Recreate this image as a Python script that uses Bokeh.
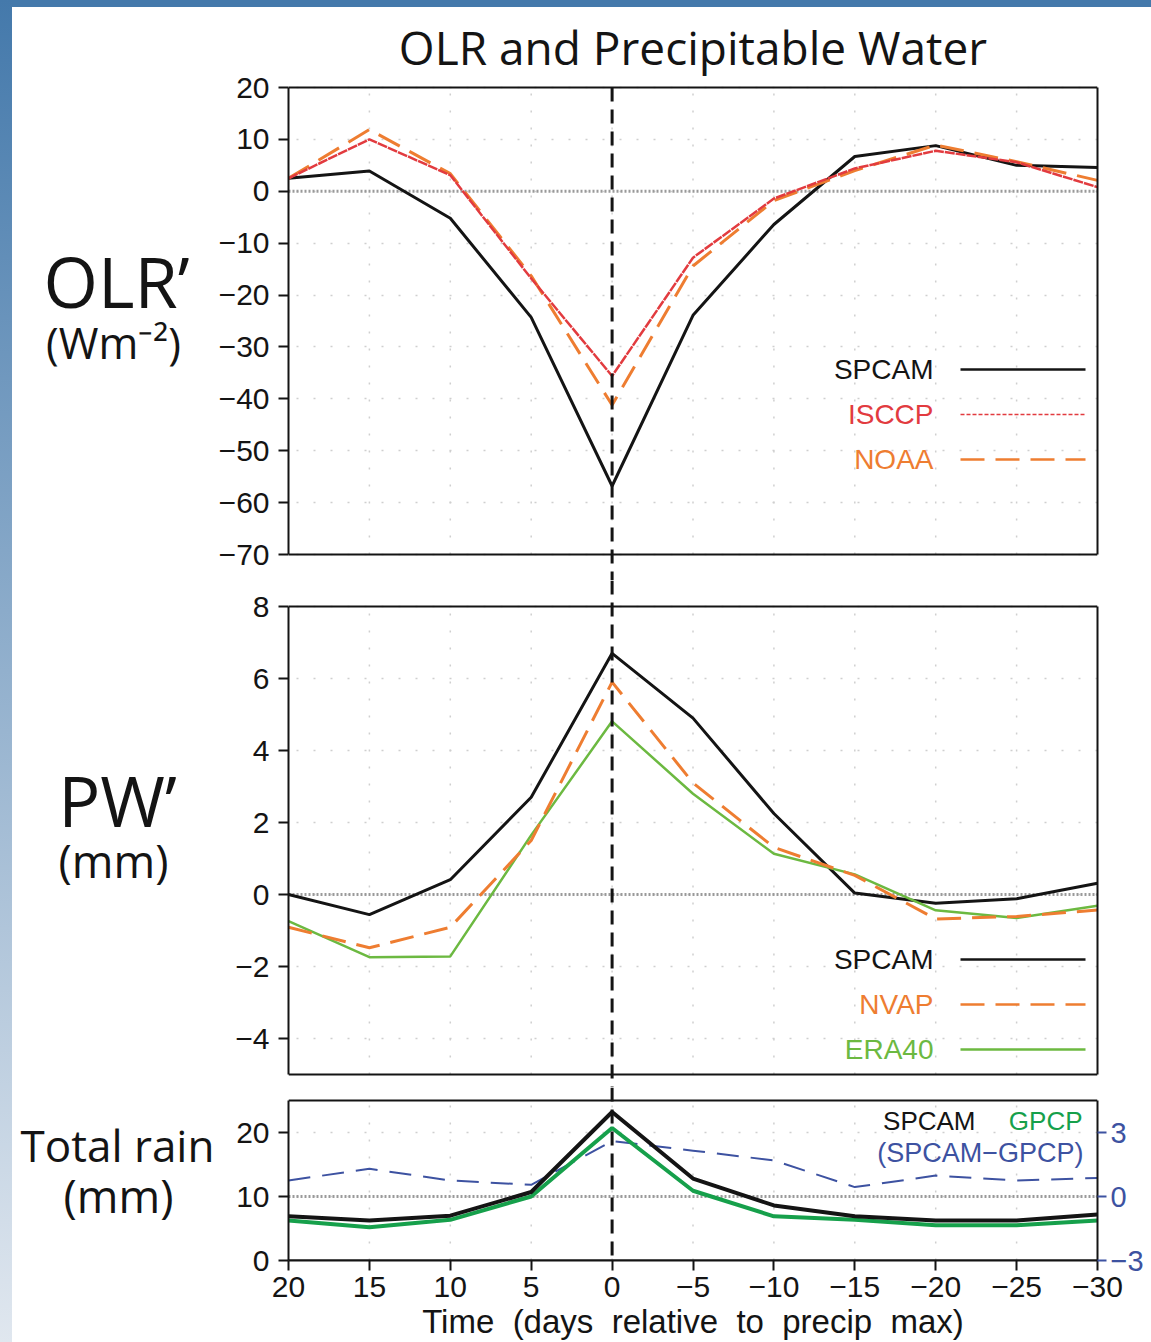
from bokeh.plotting import figure
from bokeh.models import FixedTicker, Range1d, LinearAxis, Span, Arrow, Label, Div
from bokeh.layouts import column, row
from bokeh.embed import file_html
from bokeh.resources import INLINE

# ---------------- data ----------------
days = [20, 15, 10, 5, 0, -5, -10, -15, -20, -25, -30]

olr_spcam = [2.5, 3.9, -5.2, -24.3, -56.8, -23.9, -6.4, 6.7, 8.8, 5.0, 4.6]
olr_isccp = [2.5, 10.0, 3.1, -16.8, -35.6, -12.8, -1.4, 4.4, 7.8, 5.6, 0.8]
olr_noaa = [2.5, 11.9, 3.4, -16.3, -41.2, -14.4, -1.8, 4.0, 8.9, 5.7, 2.1]

pw_spcam = [0.0, -0.56, 0.41, 2.7, 6.7, 4.9, 2.25, 0.04, -0.24, -0.12, 0.31]
pw_nvap = [-0.91, -1.48, -0.91, 1.5, 5.9, 3.1, 1.31, 0.53, -0.68, -0.61, -0.43]
pw_era40 = [-0.74, -1.74, -1.72, 1.65, 4.81, 2.8, 1.13, 0.56, -0.44, -0.65, -0.31]

rain_spcam = [6.9, 6.25, 7.0, 10.7, 23.2, 12.8, 8.6, 6.9, 6.25, 6.25, 7.2]
rain_gpcp = [6.25, 5.2, 6.35, 10.0, 20.7, 10.9, 6.9, 6.35, 5.5, 5.5, 6.25]
rain_diff = [0.75, 1.3, 0.75, 0.55, 2.6, 2.15, 1.69, 0.44, 0.98, 0.75, 0.87]

olr_ticks = [20, 10, 0, -10, -20, -30, -40, -50, -60, -70]
pw_ticks = [8, 6, 4, 2, 0, -2, -4]
rain_ticks = [0, 10, 20]
diff_ticks = [-3, 0, 3]

olr_limits = (-70, 20)
pw_limits = (-5, 8)
rain_limits = (0, 25)
diff_limits = (-3, 4.5)

title_text = "OLR and Precipitable Water"
xlabel_text = " \u00a0".join(["Time", "(days", "relative", "to", "precip", "max)"])

# ---------------- style / geometry ----------------
BLACK = "#141414"
RED = "#e23b3f"
ORANGE = "#ee7d31"
LGREEN = "#6cb941"
DGREEN = "#16a04b"
BLUE = "#3d52a1"
GREY0 = "#9a9a9a"
GRIDC = "#cfcfcf"
TICK_FONT = "Liberation Sans"
TXT_FONT = "Open Sans"

PAGE_W, PAGE_H = 1151, 1342
BAND_W, BAND_H = 12, 7
TEXT_COL_R = 215           # right edge of the left text column
FRAME_L, FRAME_R = 288, 1097
LEFT = FRAME_L - TEXT_COL_R
FRAME_W = FRAME_R - FRAME_L
FIG_W = PAGE_W - TEXT_COL_R
RIGHT = FIG_W - LEFT - FRAME_W
X0, X1 = 20, -30

# panel box (page px) and canvas span (page px) of each panel
P1_BOX, P1_CAN = (87, 554), (BAND_H, 580)
P2_BOX, P2_CAN = (606, 1074), (580, 1087)
P3_BOX, P3_CAN = (1100, 1260), (1087, PAGE_H)


def lab(v):
    return f"{v:g}".replace("-", "\u2212")


def day_at(px):
    return X0 + (px - FRAME_L) * (X1 - X0) / FRAME_W


def scaler(box, limits):
    top, bot = box
    lo, hi = limits
    k = (bot - top) / (hi - lo)
    return lambda py: lo + (bot - py) / k


def style_yaxis(ya, ticks, bounds):
    ya.ticker = FixedTicker(ticks=ticks)
    ya.major_label_overrides = {t: lab(t) for t in ticks}
    ya.major_label_text_font = TICK_FONT
    ya.major_label_text_font_size = "30px"
    ya.major_label_text_color = BLACK
    ya.major_tick_out = 10
    ya.major_tick_in = 0
    ya.major_tick_line_width = 2
    ya.major_tick_line_color = BLACK
    ya.minor_tick_line_color = None
    ya.axis_line_width = 2
    ya.axis_line_color = BLACK
    ya.major_label_standoff = 9
    ya.bounds = bounds


def make_panel(box, can, limits, ticks, xaxis=False, bottom_border=0):
    f = scaler(box, limits)
    c_top, c_bot = can
    frame_bottom = c_bot - bottom_border
    y_lo, y_hi = f(frame_bottom), f(c_top)
    p = figure(width=FIG_W, height=c_bot - c_top, x_range=Range1d(X0, X1),
               y_range=Range1d(y_lo, y_hi), output_backend="svg", toolbar_location=None,
               title=None, x_axis_location="below" if xaxis else None,
               min_border_left=LEFT, min_border_right=RIGHT,
               min_border_top=0, min_border_bottom=bottom_border)
    p.outline_line_color = None
    p.background_fill_color = "white"
    p.border_fill_color = "white"
    p.xgrid.visible = False
    style_yaxis(p.yaxis[0], ticks, limits)
    g = p.ygrid[0]
    g.ticker = FixedTicker(ticks=ticks)
    g.grid_line_color = GRIDC
    g.grid_line_width = 1.5
    g.grid_line_dash = "2 15"
    # vertical dotted grid, limited to the panel box
    inner = days[1:-1]
    p.segment(x0=inner, y0=limits[0], x1=inner, y1=limits[1], line_color=GRIDC,
              line_width=1.5, line_dash="2 15", level="underlay")
    # top / bottom edges of the panel box
    for loc in limits:
        p.add_layout(Span(location=loc, dimension="width", line_color=BLACK, line_width=2))
    # precip-max reference line, running through the gaps between panels
    y_start = limits[1] if c_top == BAND_H else y_hi
    y_end = limits[0] if xaxis else y_lo
    p.add_layout(Arrow(end=None, x_start=0, y_start=y_start, x_end=0, y_end=y_end,
                       line_color=BLACK, line_width=3, line_dash="14 8"))
    if xaxis:
        xa = p.xaxis[0]
        xa.ticker = FixedTicker(ticks=days)
        xa.major_label_overrides = {t: lab(t) for t in days}
        xa.major_label_text_font = TICK_FONT
        xa.major_label_text_font_size = "30px"
        xa.major_label_text_color = BLACK
        xa.major_tick_out = 10
        xa.major_tick_in = 0
        xa.major_tick_line_width = 2
        xa.major_tick_line_color = BLACK
        xa.minor_tick_line_color = None
        xa.axis_line_width = 2
        xa.axis_line_color = BLACK
        xa.major_label_standoff = 6
        xa.axis_label = xlabel_text
        xa.axis_label_text_font = TICK_FONT
        xa.axis_label_text_font_size = "33px"
        xa.axis_label_text_font_style = "normal"
        xa.axis_label_text_color = BLACK
        xa.axis_label_standoff = 3
    return p, f


def right_edge(p, limits):
    ax = LinearAxis(ticker=FixedTicker(ticks=[]), axis_line_color=BLACK, axis_line_width=2,
                    major_tick_line_color=None, minor_tick_line_color=None,
                    major_label_text_font_size="1px", bounds=limits)
    p.add_layout(ax, "right")


def zero_line(p, loc, rname="default"):
    p.add_layout(Span(location=loc, dimension="width", line_color=GREY0, line_width=3,
                      line_dash="2 2", level="underlay", y_range_name=rname))


def text(p, s, x, y, size, color=BLACK, font=TXT_FONT, align="center", baseline="middle"):
    p.add_layout(Label(x=x, y=y, text=s, text_font=font, text_font_size=f"{size}px",
                       text_color=color, text_align=align, text_baseline=baseline))


def legend_row(p, s, color, py, f, dash, width, size=28, tx=933, l0=960, l1=1085):
    y = f(py)
    text(p, s, day_at(tx), y, size, color=color, font=TICK_FONT, align="right")
    p.add_layout(Arrow(end=None, x_start=day_at(l0), y_start=y, x_end=day_at(l1), y_end=y,
                       line_color=color, line_width=width, line_dash=dash))


# ---------------- OLR panel ----------------
p1, v1 = make_panel(P1_BOX, P1_CAN, olr_limits, olr_ticks)
right_edge(p1, olr_limits)
zero_line(p1, 0)
p1.line(days, olr_spcam, line_color=BLACK, line_width=3)
p1.line(days, olr_noaa, line_color=ORANGE, line_width=3, line_dash="24 11")
p1.line(days, olr_isccp, line_color=RED, line_width=2.5, line_dash="10 1")
text(p1, title_text, day_at((FRAME_L + FRAME_R) / 2), v1(46), 46)
legend_row(p1, "SPCAM", BLACK, 369, v1, "solid", 2.5)
legend_row(p1, "ISCCP", RED, 414, v1, "4 2", 1.5)
legend_row(p1, "NOAA", ORANGE, 459, v1, "24 11", 2.5)

# ---------------- PW panel ----------------
p2, v2 = make_panel(P2_BOX, P2_CAN, pw_limits, pw_ticks)
right_edge(p2, pw_limits)
zero_line(p2, 0)
p2.line(days, pw_spcam, line_color=BLACK, line_width=3)
p2.line(days, pw_era40, line_color=LGREEN, line_width=2.5)
p2.line(days, pw_nvap, line_color=ORANGE, line_width=3, line_dash="24 11")
legend_row(p2, "SPCAM", BLACK, 959, v2, "solid", 2.5)
legend_row(p2, "NVAP", ORANGE, 1004, v2, "24 11", 2.5)
legend_row(p2, "ERA40", LGREEN, 1049, v2, "solid", 2.5)

# ---------------- Rain panel ----------------
p3, v3 = make_panel(P3_BOX, P3_CAN, rain_limits, rain_ticks, xaxis=True,
                    bottom_border=PAGE_H - P3_BOX[1])
fd = scaler(P3_BOX, diff_limits)
p3.extra_y_ranges = {"diff": Range1d(diff_limits[0], fd(P3_CAN[0]))}
ra = LinearAxis(y_range_name="diff", ticker=FixedTicker(ticks=diff_ticks),
                major_label_overrides={t: lab(t) for t in diff_ticks},
                major_label_text_font=TICK_FONT, major_label_text_font_size="29px",
                major_label_text_color=BLUE, major_tick_line_color=BLUE,
                major_tick_line_width=2, major_tick_out=9, major_tick_in=0,
                minor_tick_line_color=None, axis_line_color=BLACK, axis_line_width=2,
                major_label_standoff=4, bounds=diff_limits)
p3.add_layout(ra, "right")
zero_line(p3, 0, "diff")
p3.line(days, rain_diff, y_range_name="diff", line_color=BLUE, line_width=2, line_dash="22 12")
p3.line(days, rain_gpcp, line_color=DGREEN, line_width=4)
p3.line(days, rain_spcam, line_color=BLACK, line_width=4)
text(p3, "SPCAM", day_at(975), v3(1120), 26, font=TICK_FONT, align="right")
text(p3, "GPCP", day_at(1082), v3(1120), 26, color=DGREEN, font=TICK_FONT, align="right")
text(p3, "(SPCAM\u2212GPCP)", day_at(1083), v3(1152), 27, color=BLUE, font=TICK_FONT,
     align="right")

# ---------------- left text column ----------------
lt = figure(width=TEXT_COL_R - BAND_W, height=PAGE_H - BAND_H,
            x_range=Range1d(BAND_W, TEXT_COL_R), y_range=Range1d(PAGE_H, BAND_H),
            output_backend="svg", toolbar_location=None, title=None,
            x_axis_location=None, y_axis_location=None, min_border=0)
lt.outline_line_color = None
lt.grid.visible = False
text(lt, "OLR\u2019", 116, 280, 70)
text(lt, "(Wm\u207b\u00b2)", 113, 342, 43)
text(lt, "PW\u2019", 117, 799, 70)
text(lt, "(mm)", 113, 860, 45)
text(lt, "Total rain", 117, 1144, 44)
text(lt, "(mm)", 118, 1195, 45)

top_band = Div(text="", width=PAGE_W - BAND_W, height=BAND_H, margin=(0, 0, 0, 0),
               styles={"background": "#4479ab"})
left_band = Div(text="", width=BAND_W, height=PAGE_H, margin=(0, 0, 0, 0),
                styles={"background": "linear-gradient(to bottom, #4479ab, #e0e7ef)"})

layout = row(left_band,
             column(top_band, row(lt, column(p1, p2, p3, spacing=0), spacing=0), spacing=0),
             spacing=0)

open("out.html", "w").write(file_html(layout, INLINE))
